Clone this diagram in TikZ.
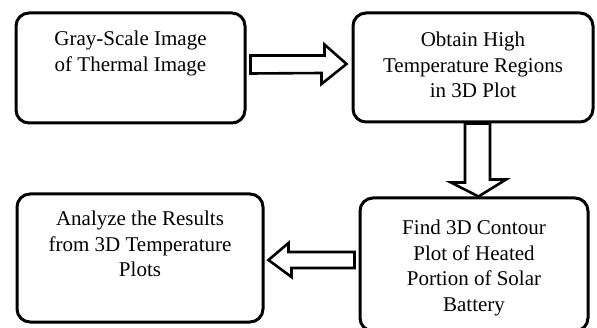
\documentclass[tikz,border=0pt]{standalone}
\usepackage{fontspec}
\setmainfont{Liberation Serif}
\usepackage{tikz}
\usetikzlibrary{positioning,calc}

\begin{document}
\begin{tikzpicture}[x=1pt, y=1pt,
        stepbox/.style={draw, line width=3pt, rounded corners=13pt, inner sep=0pt},
        steptext/.style={inner sep=0pt, align=center, font=\fontsize{21}{25.5}\selectfont},
        hollow/.style={draw, fill=white, line width=2.6pt, line join=miter}]
        \useasboundingbox (0,0) rectangle (597,327);

        % boxes
        \node[stepbox, minimum width=229pt, minimum height=110pt] (b1) at (130.5,259) {};
        \node[stepbox, minimum width=240pt, minimum height=109pt] (b2) at (473,259.5) {};
        \node[stepbox, minimum width=228pt, minimum height=133pt] (b3) at (474,62.5) {};
        \node[stepbox, minimum width=246pt, minimum height=128pt] (b4) at (140,69) {};

        % texts
        \node[steptext, below=19.5pt of b1.north] (t1) {Gray-Scale Image\\of Thermal Image};
        \node[steptext, below=20.5pt of b2.north] (t2) {Obtain High\\Temperature Regions\\in 3D Plot};
        \node[steptext, below=23.5pt of b3.north] (t3) {Find 3D Contour\\Plot of Heated\\Portion of Solar\\Battery};
        \node[steptext, below=18.5pt of b4.north] (t4) {Analyze the Results\\from 3D Temperature\\Plots};

        % block arrows
        \draw[hollow] ($(b1.east)+(4,12.5)$) -- ++(74,0) -- ++(0,11)
            -- ($(b2.west)+(-5,3.5)$) -- ++(-25,-20) -- ++(0,11)
            -- ($(b1.east)+(4,-5.5)$) -- cycle;
        \draw[hollow] ($(b2.south)+(-8,0)$) -- ++(0,-59) -- ++(-14,0)
            -- ($(b3.north)+(4.5,0)$) -- ++(27.5,17) -- ++(-16,0)
            -- ($(b2.south)+(17,0)$) -- cycle;
        \draw[hollow] ($(b3.west)+(-4,12.5)$) -- ++(-66,0) -- ++(0,9)
            -- ($(b4.east)+(4,-2)$) -- ++(23,-17) -- ++(0,9)
            -- ($(b3.west)+(-4,-3.5)$) -- cycle;
    \end{tikzpicture}
\end{document}
